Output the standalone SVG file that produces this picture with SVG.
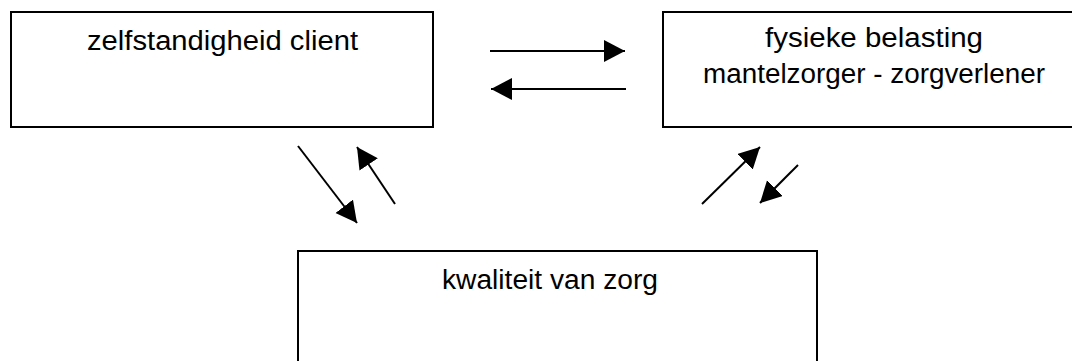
<svg xmlns="http://www.w3.org/2000/svg" width="1072" height="361" viewBox="0 0 1072 361">
<style>
.box{fill:#fff;stroke:#000;stroke-width:2}
.lbl{font-family:"Liberation Sans",Arial,sans-serif;font-size:27px;fill:#000}
.con line{stroke:#000;stroke-width:2}
</style>
<defs>
<marker id="ah" markerUnits="userSpaceOnUse" markerWidth="24" markerHeight="24" refX="21" refY="11" orient="auto" viewBox="0 0 24 24">
<path d="M0,0 L21,11 L0,22 z" fill="#000"/>
</marker>
</defs>
<rect width="1072" height="361" fill="#fff"/>
<g id="node-zelfstandigheid">
<rect class="box" x="11" y="12" width="422" height="115"/>
<text class="lbl" x="87" y="50" textLength="271" lengthAdjust="spacingAndGlyphs">zelfstandigheid client</text>
</g>
<g id="node-belasting">
<rect class="box" x="663" y="12" width="430" height="115"/>
<text class="lbl" x="765" y="47" textLength="218" lengthAdjust="spacingAndGlyphs">fysieke belasting</text>
<text class="lbl" x="703" y="83" textLength="342" lengthAdjust="spacingAndGlyphs">mantelzorger - zorgverlener</text>
</g>
<g id="node-kwaliteit">
<rect class="box" x="298" y="251" width="519" height="130"/>
<text class="lbl" x="442" y="289" textLength="216" lengthAdjust="spacingAndGlyphs">kwaliteit van zorg</text>
</g>
<g id="connectors" class="con">
<line x1="490" y1="51" x2="625" y2="51" marker-end="url(#ah)"/>
<line x1="626" y1="89" x2="491" y2="89" marker-end="url(#ah)"/>
<line x1="298" y1="146" x2="357" y2="223" marker-end="url(#ah)"/>
<line x1="395" y1="204" x2="357" y2="147" marker-end="url(#ah)"/>
<line x1="702" y1="204" x2="760" y2="147" marker-end="url(#ah)"/>
<line x1="798" y1="165" x2="760" y2="203" marker-end="url(#ah)"/>
</g>
</svg>
